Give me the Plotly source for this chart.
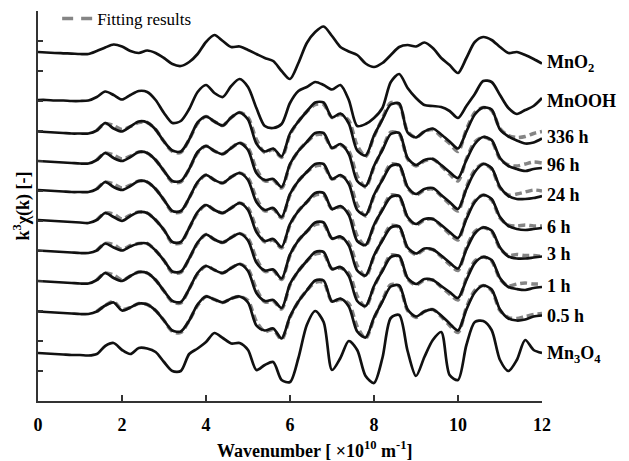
import plotly.graph_objects as go

# wavenumber grid (x 10^10 m^-1)
k = [0.0, 0.2, 0.4, 0.6, 0.8, 1.0, 1.2, 1.4, 1.6, 1.8, 2.0, 2.2, 2.4, 2.6, 2.8,
     3.0, 3.2, 3.4, 3.6, 3.8, 4.0, 4.2, 4.4, 4.6, 4.8, 5.0, 5.2, 5.4, 5.6, 5.8,
     6.0, 6.2, 6.4, 6.6, 6.8, 7.0, 7.2, 7.4, 7.6, 7.8, 8.0, 8.2, 8.4, 8.6, 8.8,
     9.0, 9.2, 9.4, 9.6, 9.8, 10.0, 10.2, 10.4, 10.6, 10.8, 11.0, 11.2, 11.4,
     11.6, 11.8, 12.0]
k_fit = k[7:]

# measured k3chi(k) (arbitrary units, before vertical stacking)
mno2 = [0, -0.5, -1, -1.3, -1.6, -2, -2,
        1, 4.5, 7.5, 5.5, 1, -1, 1.5, -1,
        -6, -12, -14, -10, -2,
        10, 17, 11, 5, 5.5,
        2, -2, -6, -9, -19,
        -27, -11, 9, 20, 25.5,
        16, 5, 0.5, -3, -11.5,
        -15, -11, -3, 5, 7,
        5.5, 9.5, 4, -6, -13,
        -21, -6, 10, 15, 12,
        5, -1, 0, -3, -7, -11.5]
mnooh = [0, 0, -0.5, -0.5, -1, -1, -0.5,
         3, 8.5, 5, 0.5, 5, 9, 8, 0,
         -13, -23, -21, -9, 8,
         15, 7, 3, 14, 21,
         13, -8, -26, -28, -24,
         -3, 9, 13, 18, 15,
         10.5, 15, 0, -26, -24,
         -18, -8, 18, 26, 12,
         2, -5, -6, -7, -11,
         -18, -6, 6, 19, 18,
         5, -8, -14, -10, -6, 2]
h336 = [0, -0.5, -1, -1.5, -2, -2, -2,
        1, 8.5, 3, 0, 5, 10, 9, 2,
        -10, -19, -20, -8, 9,
        15, 10, 6, 14, 19,
        12, -12, -20, -17, -25,
        -2, 10, 20, 29, 29,
        14, 18, 8, -19, -24,
        -4, 12, 27, 28, -1,
        -6, 0, 3, -3, -10,
        -17, 0, 17, 24, 22,
        2, -5, -9, -12, -11, -7]
h96 = [0, -0.5, -1, -1.5, -2, -2.5, -2.5,
       1, 8, 3, 0, 4, 9, 8, 1,
       -10, -20, -20, -8, 9,
       15, 10, 7, 13, 18,
       11, -12, -19, -18, -26,
       -3, 10, 19, 28, 28,
       13, 17, 7, -20, -25,
       -5, 11, 27, 28, 3,
       -4, 1, 2, -4, -11,
       -17, 1, 17, 24, 21,
       3, -5, -8, -10, -8, -7]
h24 = [0, -0.5, -1, -1.5, -2, -2, -2,
       1, 8, 3, 0, 4, 9, 8, 1,
       -10, -21, -21, -8, 8,
       15, 10, 7, 13, 17,
       10, -12, -20, -18, -27,
       -4, 9, 18, 26, 26,
       11, 15, 6, -20, -25,
       -5, 10, 24, 25, 3,
       -4, 1, 2, -5, -12,
       -19, 1, 18, 26, 22,
       3, -6, -9, -9, -8, -6]
h6 = [0, -0.5, -1, -1.5, -2, -2.5, -3,
      0, 7, 3, -1, 4, 8, 7, 0,
      -10, -22, -22, -8, 8,
      15, 10, 7, 12, 17,
      10, -12, -21, -19, -27,
      -4, 9, 18, 27, 27,
      11, 14, 5, -21, -25,
      -5, 10, 23, 24, 3,
      -4, 1, 1, -5, -12,
      -18, 1, 18, 25, 21,
      3, -6, -9, -10, -9, -8]
h3 = [0, -0.5, -1, -1.5, -2, -2.5, -2.5,
      0, 7, 3, 0, 4, 7, 7, 0,
      -10, -21, -21, -8, 8,
      16, 11, 8, 13, 17,
      10, -12, -20, -19, -28,
      -4, 10, 19, 28, 28,
      12, 14, 5, -20, -25,
      -5, 10, 23, 24, 3,
      -3, 2, 1, -5, -12,
      -18, 1, 17, 23, 20,
      3, -6, -8, -8, -7, -6]
h1 = [0, -0.5, -1, -1.5, -2, -2.5, -2.5,
      1, 8, 3, 0, 5, 9, 8, 1,
      -10, -20, -21, -8, 8,
      15, 11, 8, 13, 17,
      10, -12, -20, -19, -27,
      -3, 10, 20, 29, 29,
      12, 14, 5, -20, -25,
      -5, 10, 24, 25, 3,
      -3, 2, 1, -5, -11,
      -17, 1, 18, 24, 21,
      3, -6, -8, -9, -7, -6]
h05 = [0, -0.5, -1, -1.5, -2, -2.5, -2.5,
       0, 6, 9, 1, 4, 8, 7, 1,
       -9, -19, -20, -9, 7,
       15, 12, 9, 13, 15,
       9, -14, -19, -17, -27,
       -5, 10, 21, 31, 31,
       10, 13, 5, -20, -26,
       -6, 10, 25, 26, 2,
       -5, 0, 2, -4, -12,
       -19, 2, 19, 26, 22,
       2, -7, -9, -8, -5, -4]
mn3o4 = [0, -0.5, -1, -1.5, -2, -2, -2.5,
         -1, 7, 10, 3, -1, 5, 4.5, 1,
         -9, -18, -18, -1, 4.5,
         11, 20, 15, 9.5, 10,
         3, -17, -12, -9, -27,
         -29, -5, 28, 42, 31,
         -17, -5, 12, 3, -23,
         -30, -5, 35, 38, 2,
         -23, -4, 13, 21, -22,
         -27, 8, 31, 32, 23,
         -7, -18, -7, 13, 3, 0]

# fitting results (k = 1.4 ... 12.0)
fit_h336 = [1, 8, 6, 2, 5, 9, 9, 2,
            -10, -20, -21, -8, 8,
            15, 10, 6, 14, 19,
            14, -8, -21, -18, -26,
            -3, 10, 20, 27, 27,
            14, 17, 11, -14, -25,
            -5, 13, 29, 27, 0,
            -6, 0, 2, -5, -12,
            -20, 2, 19, 24, 21,
            3, -4, -6, -5, -2, 0]
fit_h96 = [1, 8, 6, 2, 5, 9, 8, 1,
           -10, -21, -21, -8, 8,
           15, 10, 7, 13, 18,
           13, -8, -20, -19, -27,
           -4, 10, 19, 26, 26,
           13, 16, 10, -15, -26,
           -6, 12, 29, 27, 2,
           -5, 0, 2, -5, -13,
           -20, 2, 19, 24, 20,
           2, -4, -5, -3, -1, -2]
fit_h24 = [1, 8, 6, 2, 5, 9, 8, 1,
           -10, -22, -22, -8, 7,
           15, 10, 7, 13, 17,
           12, -8, -21, -19, -28,
           -5, 9, 18, 24, 24,
           11, 14, 9, -15, -26,
           -6, 11, 26, 24, 2,
           -5, 0, 1, -6, -14,
           -21, 3, 20, 26, 21,
           2, -5, -4, -2, 0, -1]
fit_h6 = [0, 7, 6, 1, 5, 8, 7, 0,
          -10, -23, -23, -8, 7,
          15, 10, 7, 12, 17,
          12, -8, -22, -20, -28,
          -5, 9, 18, 25, 25,
          11, 13, 8, -16, -26,
          -6, 11, 25, 23, 2,
          -5, 0, 1, -6, -14,
          -20, 3, 19, 25, 20,
          2, -5, -6, -5, -6, -6]
fit_h3 = [0, 7, 6, 1, 5, 7, 7, 0,
          -10, -22, -22, -8, 7,
          16, 11, 8, 13, 17,
          12, -8, -21, -20, -29,
          -5, 10, 19, 26, 26,
          12, 13, 8, -15, -26,
          -6, 11, 25, 23, 2,
          -4, 1, 1, -6, -14,
          -20, 3, 19, 23, 19,
          2, -5, -4, -5, -5, -6]
fit_h1 = [1, 8, 6, 1, 5, 9, 8, 1,
          -10, -21, -22, -8, 7,
          15, 11, 8, 13, 17,
          12, -8, -21, -20, -28,
          -4, 10, 20, 27, 27,
          12, 13, 8, -15, -26,
          -6, 11, 26, 24, 2,
          -4, 1, 1, -6, -13,
          -19, 3, 20, 24, 20,
          2, -5, -3, -2, -3, -3]
fit_h05 = [0, 6, 10, 2, 4, 8, 7, 1,
           -9, -20, -21, -9, 6,
           15, 12, 9, 13, 15,
           11, -10, -20, -18, -28,
           -6, 10, 21, 29, 29,
           10, 12, 8, -15, -27,
           -7, 11, 27, 25, 1,
           -6, 0, 2, -5, -14,
           -21, 4, 21, 26, 21,
           1, -6, -7, -5, -3, -2]

labels = ["MnO<sub>2</sub>", "MnOOH", "336 h", "96 h", "24 h", "6 h",
          "3 h", "1 h", "0.5 h", "Mn<sub>3</sub>O<sub>4</sub>"]
offsets = [349, 301, 269.5, 240, 211, 181, 150.5, 120, 89.5, 48]

series = [mno2, mnooh, h336, h96, h24, h6, h3, h1, h05, mn3o4]
fits = [None, None, fit_h336, fit_h96, fit_h24, fit_h6, fit_h3, fit_h1, fit_h05, None]

# label anchor heights (same units as the stacked axis)
label_y = [338, 300.5, 264, 236, 206.5, 174, 147.5, 115, 85.5, 46.5]

FONT = "Liberation Serif"
fig = go.Figure()

for s, f, off in zip(series, fits, offsets):
    if f is not None:
        fig.add_trace(go.Scatter(
            x=k_fit, y=[off + v for v in f], mode="lines",
            line=dict(color="#858585", width=3.5, dash="7px,4px",
                      shape="spline", smoothing=0.8),
            showlegend=False, hoverinfo="skip"))

for s, off in zip(series, offsets):
    fig.add_trace(go.Scatter(
        x=k, y=[off + v for v in s], mode="lines",
        line=dict(color="#111111", width=2.7, shape="spline", smoothing=0.8),
        showlegend=False))

# legend entry for the fits
fig.add_trace(go.Scatter(
    x=[None], y=[None], mode="lines", name="Fitting results",
    line=dict(color="#858585", width=3.5, dash="11px,8px"),
    showlegend=True))

for lab, ly in zip(labels, label_y):
    fig.add_annotation(x=12, y=ly, xref="x", yref="y", text=lab,
                       showarrow=False, xanchor="left", yanchor="middle",
                       xshift=3,
                       font=dict(family=FONT, size=18, color="black", weight="bold"))

fig.add_annotation(
    x=0.5496, y=-0.124, xref="paper", yref="paper", yanchor="middle",
    text="Wavenumber [ \u00d710<sup>10</sup> m<sup>-1</sup>]", showarrow=False,
    font=dict(family=FONT, size=18, color="black", weight="bold"))

# the page body adds an 8px margin, so the figure is 8px smaller
fig.update_layout(
    width=621, height=453,
    margin=dict(l=30, r=87, t=3, b=60, autoexpand=False),
    paper_bgcolor="white", plot_bgcolor="white",
    legend=dict(x=0.038, y=1.026, xanchor="left", yanchor="top",
                bgcolor="rgba(0,0,0,0)",
                font=dict(family=FONT, size=17, color="black")),
    xaxis=dict(range=[0, 12], tickvals=[0, 2, 4, 6, 8, 10, 12],
               ticks="inside", ticklen=6, tickwidth=1.5, tickcolor="#333",
               showline=True, linecolor="#333", linewidth=1.8,
               showgrid=False, zeroline=False, ticklabelstandoff=6,
               automargin=False,
               tickfont=dict(family=FONT, size=18, color="black", weight="bold")),
    yaxis=dict(range=[0, 390], tickvals=list(range(0, 391, 30)),
               ticks="inside", ticklen=5, tickwidth=1.5, tickcolor="#333",
               showline=True, linecolor="#333", linewidth=1.8,
               showgrid=False, zeroline=False, showticklabels=False,
               automargin=False,
               title=dict(text="k<sup>3</sup>\u03c7(k) [-]", standoff=2,
                          font=dict(family=FONT, size=18, color="black",
                                    weight="bold"))),
)

fig.write_html("out.html")
